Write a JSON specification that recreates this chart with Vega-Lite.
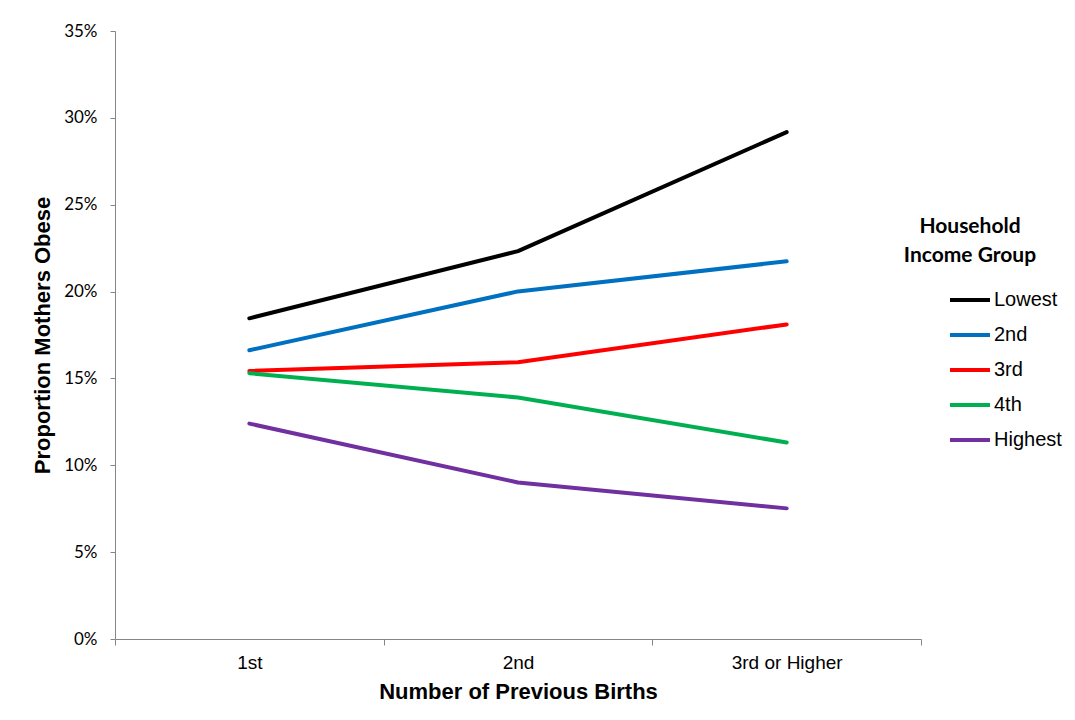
{
  "$schema": "https://vega.github.io/schema/vega-lite/v6.json",
  "autosize": "none",
  "width": 806,
  "height": 608,
  "padding": {"left": 115, "top": 31, "right": 154, "bottom": 81},
  "background": "white",
  "config": {"view": {"stroke": null}},
  "data": {
    "values": [
      {"births": "1st", "group": "Lowest", "value": 0.1846},
      {"births": "2nd", "group": "Lowest", "value": 0.2233},
      {"births": "3rd or Higher", "group": "Lowest", "value": 0.2918},
      {"births": "1st", "group": "2nd", "value": 0.1662},
      {"births": "2nd", "group": "2nd", "value": 0.2001},
      {"births": "3rd or Higher", "group": "2nd", "value": 0.2174},
      {"births": "1st", "group": "3rd", "value": 0.1543},
      {"births": "2nd", "group": "3rd", "value": 0.1593},
      {"births": "3rd or Higher", "group": "3rd", "value": 0.1811},
      {"births": "1st", "group": "4th", "value": 0.153},
      {"births": "2nd", "group": "4th", "value": 0.139},
      {"births": "3rd or Higher", "group": "4th", "value": 0.1131},
      {"births": "1st", "group": "Highest", "value": 0.124},
      {"births": "2nd", "group": "Highest", "value": 0.0901},
      {"births": "3rd or Higher", "group": "Highest", "value": 0.0752}
    ]
  },
  "mark": {"type": "line", "strokeWidth": 4, "strokeCap": "round", "strokeJoin": "round"},
  "encoding": {
    "x": {
      "field": "births",
      "type": "nominal",
      "sort": ["1st", "2nd", "3rd or Higher"],
      "scale": {"type": "band", "paddingInner": 0, "paddingOuter": 0},
      "axis": {
        "title": "Number of Previous Births",
        "titleFont": "Liberation Sans",
        "titleFontSize": 22,
        "titleFontWeight": "bold",
        "titleColor": "black",
        "titlePadding": 9,
        "labelFont": "Liberation Sans",
        "labelFontSize": 19,
        "labelColor": "black",
        "labelAngle": 0,
        "labelPadding": 8,
        "tickBand": "extent",
        "tickSize": 6,
        "tickColor": "#868686",
        "domainColor": "#868686",
        "grid": false
      }
    },
    "y": {
      "field": "value",
      "type": "quantitative",
      "scale": {"domain": [0, 0.35], "nice": false},
      "axis": {
        "title": "Proportion Mothers Obese",
        "titleFont": "Liberation Sans",
        "titleFontSize": 22,
        "titleFontWeight": "bold",
        "titleColor": "black",
        "titlePadding": 9,
        "values": [0, 0.05, 0.1, 0.15, 0.2, 0.25, 0.3, 0.35],
        "format": ".0%",
        "labelFont": "Lato",
        "labelFontSize": 17,
        "labelColor": "black",
        "labelPadding": 13,
        "tickSize": 5,
        "tickColor": "#868686",
        "domainColor": "#868686",
        "grid": false
      }
    },
    "color": {
      "field": "group",
      "type": "nominal",
      "scale": {
        "domain": ["Lowest", "2nd", "3rd", "4th", "Highest"],
        "range": ["#000000", "#0070C0", "#FF0000", "#00B050", "#7030A0"]
      },
      "legend": {
        "title": ["Household", "Income Group"],
        "titleFont": "Lato",
        "titleFontSize": 21,
        "titleFontWeight": "bold",
        "titleColor": "black",
        "titleAnchor": "middle",
        "titleAlign": "center",
        "titleLineHeight": 29,
        "titlePadding": 12,
        "orient": "none",
        "legendX": 764,
        "legendY": 185,
        "padding": 0,
        "symbolType": "stroke",
        "symbolSize": 1600,
        "symbolStrokeWidth": 4,
        "symbolOffset": 69,
        "labelOffset": 2,
        "labelFont": "Liberation Sans",
        "labelFontSize": 20,
        "labelColor": "black",
        "rowPadding": 3
      }
    }
  }
}
